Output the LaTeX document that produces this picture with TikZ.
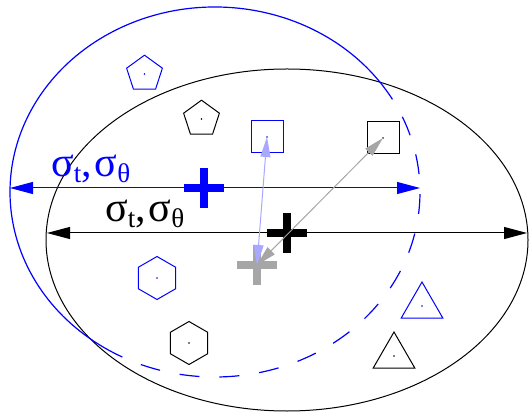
\documentclass[tikz,border=0pt]{standalone}
\usepackage{fontspec}
\setmainfont{Liberation Serif}
\usetikzlibrary{positioning, arrows.meta, shapes.geometric}
\definecolor{sigblue}{HTML}{0000FF}
\definecolor{paleblue}{HTML}{A8A8FF}
\definecolor{midgray}{HTML}{A6A6A6}

\tikzset{
  poly/.style={regular polygon, inner sep=0pt, line width=1pt},
  box/.style={rectangle, minimum size=32pt, inner sep=0pt, line width=1pt},
  crossmark/.style={minimum size=40pt, inner sep=0pt},
  crossbar/.style={line width=8pt},
  bigtips/.style={{Triangle[length=23pt,width=12pt]}-{Triangle[length=23pt,width=12pt]}, line width=1pt},
  thintips/.style={{Triangle[length=20pt,width=10pt]}-{Triangle[length=20pt,width=10pt]}, line width=1pt},
  sigmalabel/.style={font=\fontsize{42}{42}\selectfont, inner sep=0pt, anchor=base west}
}
\newcommand\sigsub[1]{\raisebox{-6pt}{\fontsize{27}{27}\selectfont #1}}

\begin{document}
\begin{tikzpicture}[x=1pt, y=1pt]
  \useasboundingbox (0,0) rectangle (529,412);
  \coordinate (bo) at (215,220);
  \coordinate (ko) at (287,172);

  % ellipses
  \draw[line width=1pt] (ko) ellipse [x radius=241pt, y radius=171pt];
  \draw[sigblue, line width=1.2pt] (bo) ++(33.9:205pt and 185pt)
    arc [start angle=33.9, end angle=237.4, x radius=205pt, y radius=185pt];
  \draw[sigblue, line width=1.2pt, dash pattern=on 20pt off 20pt] (bo) ++(237.4:205pt and 185pt)
    arc [start angle=237.4, end angle=393.9, x radius=205pt, y radius=185pt];

  % widths
  \coordinate (bl) at (10,224);
  \coordinate (br) at (420,224);
  \coordinate (kl) at (47,179);
  \coordinate (kr) at (527,179);
  \draw[bigtips, sigblue] (bl) -- (br);
  \draw[bigtips] (kl) -- (kr);
  \node[sigmalabel, text=sigblue] (blab) at (51,235) {σ\sigsub{t},\hspace{3pt}σ\sigsub{θ}};
  \node[sigmalabel] (klab) at (105,190) {σ\sigsub{t},\hspace{3pt}σ\sigsub{θ}};

  % samples
  \node[poly, regular polygon sides=5, minimum size=37.6pt, draw=sigblue] (bpent) at (144.5,338) {};
  \node[poly, regular polygon sides=5, minimum size=37.6pt, draw] (kpent) at (201.5,293) {};
  \node[box, draw=sigblue] (bsq) at (267,275) {};
  \node[box, draw] (ksq) at (383,274) {};
  \node[poly, regular polygon sides=6, minimum size=43pt, shape border rotate=30, draw=sigblue] (bhex) at (157,134) {};
  \node[poly, regular polygon sides=6, minimum size=43pt, shape border rotate=30, draw] (khex) at (189,69) {};
  \node[poly, regular polygon sides=3, minimum size=48pt, draw=sigblue] (btri) at (422,106) {};
  \node[poly, regular polygon sides=3, minimum size=48pt, draw] (ktri) at (394,56) {};
  \foreach \n/\col in {bpent/sigblue, kpent/black, bsq/sigblue, ksq/black,
                       bhex/sigblue, khex/black, btri/sigblue, ktri/black}
    \fill[\col] (\n.center) circle (0.8pt);

  % centres
  \node[crossmark] (bc) at (204,224) {};
  \node[crossmark] (kc) at (287,179) {};
  \node[crossmark] (gc) at (257,147) {};
  \foreach \c/\col in {bc/sigblue, kc/black, gc/midgray}
    \draw[crossbar, \col] (\c.north) -- (\c.south) (\c.west) -- (\c.east);

  \draw[thintips, paleblue] (gc.center) -- (bsq.center);
  \draw[thintips, midgray] (gc.center) -- (ksq.center);
\end{tikzpicture}
\end{document}
